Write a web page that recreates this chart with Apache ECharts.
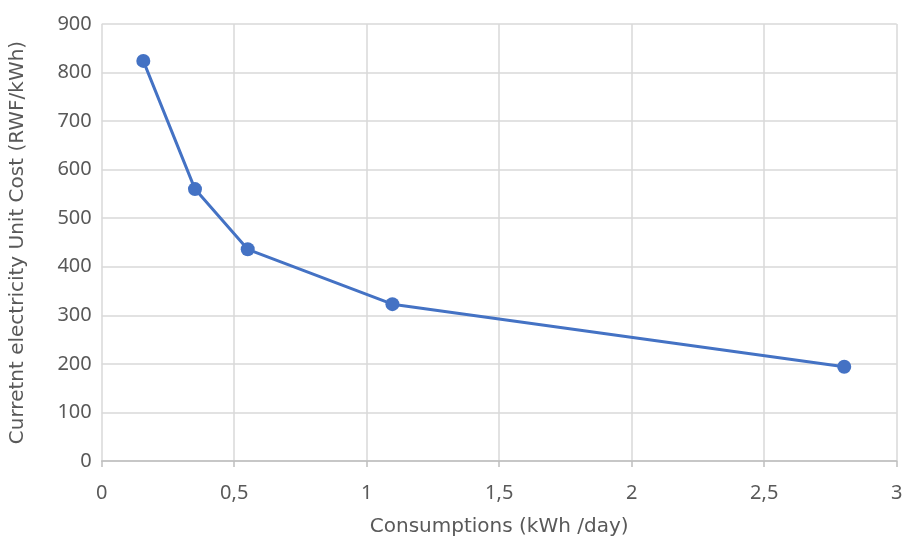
<!DOCTYPE html>
<html>
<head>
<meta charset="utf-8">
<script src="https://cdn.jsdelivr.net/npm/echarts@6/dist/echarts.min.js"></script>
<style>
  html, body { margin: 0; padding: 0; background: #fff; }
  #chart { width: 904px; height: 540px; }
</style>
</head>
<body>
<div id="chart"></div>
<script>
// Daily consumption (kWh/day) versus current unit cost (RWF/kWh)
const consumptions = [0.157, 0.352, 0.551, 1.097, 2.802];
const unitCosts = [824, 560, 436, 323, 194];

const xTitle = 'Consumptions (kWh /day)';
const yTitle = 'Curretnt electricity Unit Cost (RWF/kWh)';

const points = consumptions.map((x, i) => [x, unitCosts[i]]);

const chart = echarts.init(document.getElementById('chart'), null, { renderer: 'canvas' });

const tickFont = { color: '#595959', fontSize: 20, fontFamily: '"Noto Sans", sans-serif' };
const titleFont = { color: '#595959', fontSize: 20, fontFamily: '"DejaVu Sans", sans-serif' };

chart.setOption({
  animation: false,
  backgroundColor: '#ffffff',
  grid: { left: 101.7, right: 7.3, top: 24, bottom: 79, containLabel: false, outerBoundsMode: 'none' },
  xAxis: {
    type: 'value',
    min: 0, max: 3, interval: 0.5,
    name: xTitle,
    nameLocation: 'middle',
    nameGap: 56,
    nameTextStyle: titleFont,
    axisLine: { show: true, lineStyle: { color: '#bfbfbf', width: 1.5 } },
    axisTick: { show: true, length: 6, lineStyle: { color: '#bfbfbf', width: 1.5 } },
    axisLabel: Object.assign({ margin: 22, formatter: v => String(v).replace('.', ',') }, tickFont),
    splitLine: { show: true, lineStyle: { color: '#d9d9d9', width: 1.5 } }
  },
  yAxis: {
    type: 'value',
    min: 0, max: 900, interval: 100,
    name: yTitle,
    nameLocation: 'middle',
    nameGap: 74,
    nameTextStyle: titleFont,
    axisLine: { show: false },
    axisTick: { show: false },
    axisLabel: Object.assign({ margin: 10 }, tickFont),
    splitLine: { show: true, lineStyle: { color: '#d9d9d9', width: 1.5 } }
  },
  series: [{
    type: 'line',
    data: points,
    symbol: 'circle',
    symbolSize: 14,
    itemStyle: { color: '#4472C4' },
    lineStyle: { color: '#4472C4', width: 3 }
  }]
});
</script>
</body>
</html>
